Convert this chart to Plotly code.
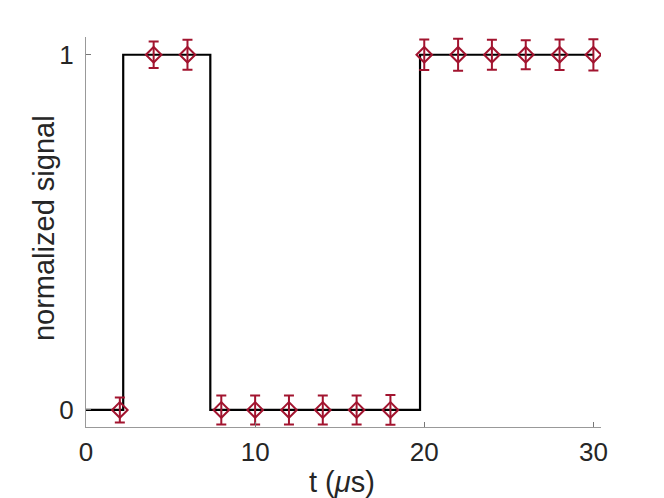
import plotly.graph_objects as go

# step (ideal) signal
step_t = [0, 2.2, 7.35, 19.75, 30]
step_y = [0, 1, 0, 1, 1]

# measured points
meas_t = [2, 4, 6, 8, 10, 12, 14, 16, 18, 20, 22, 24, 26, 28, 30]
meas_y = [0, 1, 1, 0, 0, 0, 0, 0, 0, 1, 1, 1, 1, 1, 1]
meas_err = [0.035, 0.037, 0.042, 0.041, 0.041, 0.041, 0.041, 0.041, 0.042,
            0.043, 0.045, 0.042, 0.041, 0.043, 0.044]

xticks = [0, 10, 20, 30]
yticks = [0, 1]

red = "#A2142F"

fig = go.Figure()
fig.add_trace(go.Scatter(x=step_t, y=step_y, mode="lines", line_shape="hv",
                         line=dict(color="black", width=2.2), showlegend=False))
fig.add_trace(go.Scatter(x=meas_t, y=meas_y, mode="markers",
                         marker=dict(symbol="diamond-open", size=12, color=red,
                                     line=dict(width=2, color=red)),
                         error_y=dict(type="data", array=meas_err, visible=True,
                                      color=red, thickness=2, width=5),
                         showlegend=False))

tfont = dict(family="Liberation Sans, Arial, sans-serif", size=29, color="#262626")
kfont = dict(family="Liberation Sans, Arial, sans-serif", size=26, color="#262626")
fig.update_layout(
    width=664, height=498,
    margin=dict(l=78, r=71, t=29, b=79),
    paper_bgcolor="white", plot_bgcolor="white",
    font=kfont,
)
fig.update_xaxes(range=[0, 30.45], tickvals=xticks, ticks="inside", ticklen=5,
                 tickcolor="#777", showline=True, linecolor="#999", linewidth=1,
                 showgrid=False, zeroline=False, mirror=False, automargin=False,
                 tickfont=kfont, ticklabelstandoff=2)
fig.update_yaxes(range=[-0.048, 1.05], tickvals=yticks, ticks="inside", ticklen=5,
                 tickcolor="#777", showline=True, linecolor="#999", linewidth=1,
                 showgrid=False, zeroline=False, mirror=False, automargin=False,
                 tickfont=kfont, ticklabelstandoff=6)
fig.add_annotation(text="t (<i>μ</i>s)", xref="paper", yref="paper", x=0.497, y=-0.141,
                   xanchor="center", yanchor="middle", showarrow=False, font=tfont)
fig.add_annotation(text="normalized signal", xref="paper", yref="paper", x=-0.0816, y=0.51,
                   xanchor="center", yanchor="middle", textangle=-90, showarrow=False,
                   font=tfont)

fig.write_html("out.html")
